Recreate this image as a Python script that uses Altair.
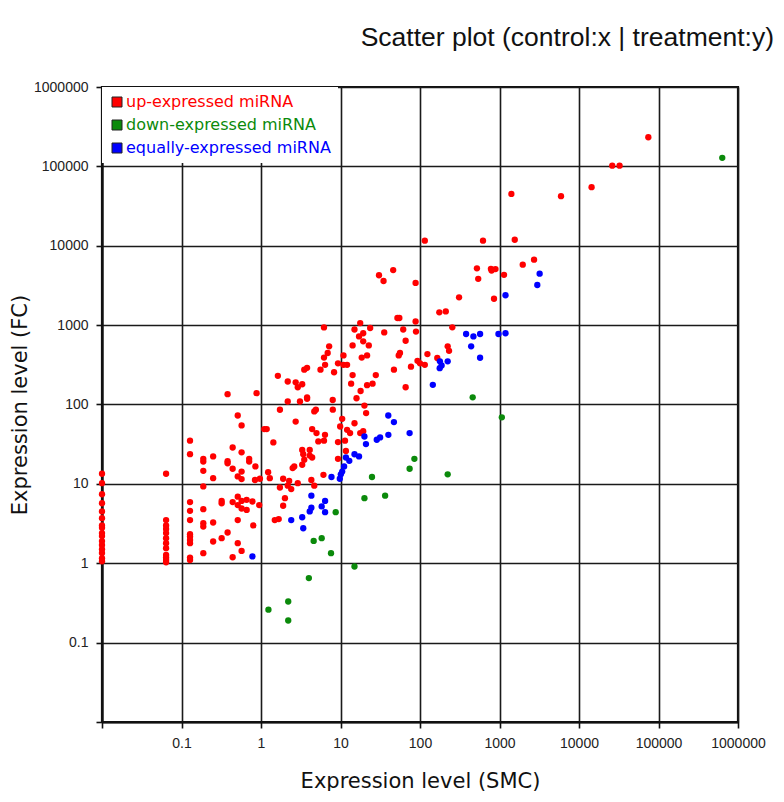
import altair as alt
import pandas as pd

# ---- data ----
up_x = [0.01]*16 + [0.064]*12 + [0.128]*11 + [0.188]*8 + [
    0.25, 0.25, 0.25, 0.25, 0.32, 0.32, 0.32, 0.38, 0.38, 0.38, 0.38,
    0.44, 0.44, 0.44, 0.44, 0.51, 0.51, 0.51, 0.51, 0.51, 0.51,
    0.57, 0.57, 0.57, 0.57, 0.57, 0.57, 0.57, 0.66, 0.66, 0.71, 0.71,
    0.78, 0.8, 0.85, 0.95, 1.1,
    2.17, 3.09, 3.8, 7.98, 1.73, 4.68, 4.9, 8.0, 2.73, 1.18, 4.4, 4.99, 6.38, 5.26, 6.2,
    1.43, 3.3, 4.1, 3.4, 4.1, 4.4, 3.5, 3.3, 2.62, 2.5, 1.23, 1.29, 0.97, 0.84,
    1.9, 2.26, 2.17, 2.9, 4.3, 4.68, 6.1, 1.73, 2.4, 2.0, 1.9, 1.49, 1.67,
    10.5, 9.9, 12.1, 15.0, 13.2, 9.3, 11.4, 11.7, 9.3, 17.7, 19.3, 20, 21,
    30.5, 34.8, 46, 88, 52, 55, 88, 17.7, 15, 19.3, 23.6, 17.1, 35.5, 61.5, 89, 6.2,
    19.3, 22.7, 14.2, 66, 7.2, 6.9, 6.2, 10.9, 18.5, 21.6, 56, 54, 93, 100, 9.3,
    10.9, 12.1, 6.4, 77, 5.6, 3.8, 3.5, 8.3, 47, 27.8, 14.2, 1.63, 2.17, 2.73, 3.3,
    2.9, 13.6, 21.6, 25.3, 66, 0.88, 3.8, 17.9, 15.9,
    74500, 26200, 32400, 14400, 5940, 1410, 115, 620, 1555, 2720, 1960, 520, 780,
    795, 890, 1140, 540, 310, 853, 175, 211, 255, 223, 232, 124, 165, 115,
]
up_y = [13.4, 10.2, 7.4, 5.7, 4.5, 3.7, 3.0, 2.8, 2.4, 2.2, 1.9, 1.7, 1.5, 1.35, 1.16, 1.06] + \
    [13.4, 3.5, 3.0, 2.7, 2.4, 2.07, 1.79, 1.55, 1.27, 1.18, 1.1, 1.03] + \
    [35, 23.7, 5.9, 4.57, 3.5, 2.32, 2.17, 1.97, 1.79, 1.18, 1.1] + \
    [20.7, 19.1, 14.6, 9.3, 4.8, 3.2, 2.9, 1.34] + [
    22.2, 11.8, 3.26, 1.88, 6.1, 5.7, 2.07, 19.3, 18.2, 2.44, 135,
    28.7, 15.5, 5.9, 1.19, 72.7, 12.4, 6.9, 5.4, 3.5, 1.79,
    54.5, 25, 14.3, 11.5, 6.1, 4.9, 1.43, 6.3, 4.7, 20.7, 19.1,
    6.0, 3.0, 16.6, 5.4, 49,
    109, 109, 118, 114, 85.8, 81.8, 86, 86, 61, 49, 49, 43.6, 41.5, 34.3, 35,
    33.3, 26.8, 26.8, 23.6, 22.7, 21.5, 20.2, 17.4, 16.6, 15.8, 14.0, 11.8, 11.6, 11.2,
    11.6, 10.9, 9.5, 10.2, 11.2, 9.5, 13.0, 9.0, 8.6, 6.6, 5.3, 3.5, 3.6,
    66, 52.8, 48, 58, 43.6, 33.6, 35, 26, 20.7, 43.6, 46, 97, 78,
    4250, 3600, 4940, 3400, 1230, 1230, 1110, 1060, 880, 790, 920, 720, 810, 880, 830, 935,
    625, 555, 555, 635, 540, 445, 390, 415, 390, 415, 445, 415, 355, 330, 330,
    316, 316, 316, 300, 275, 290, 275, 255, 275, 235, 235, 230, 195, 190, 180,
    165, 183, 175, 183, 165, 139, 123, 148, 120,
    233000, 102000, 102000, 54700, 42100, 45000, 11600, 11600, 11900, 6680, 5780, 5200, 5120,
    4870, 5080, 4300, 3830, 2240, 2150, 1450, 1490, 937, 540, 475, 432, 385, 316,
]

down_x = [634000, 460, 1070, 85, 74, 24.9, 223, 20, 36.4, 8.7, 5.8, 4.6, 7.6, 15, 4.0, 2.2, 1.24, 2.2]
down_y = [128000, 123, 69, 20.7, 15.5, 12.2, 13.2, 6.6, 7.1, 4.4, 2.07, 1.91, 1.34, 0.91, 0.65, 0.33, 0.26, 0.19]

equal_x = [0.78, 39.9, 47, 40, 31.5, 28.6, 74, 20, 20.9, 15, 17.1, 11.7, 12.9, 11.1, 10.5, 10.1,
           9.8, 7.7, 4.3, 6.4, 5.8, 4.3, 4.1, 6.4, 3.3, 2.4, 3.4,
           3200, 2990, 1190, 380, 470, 570, 970, 1190, 440, 570, 223, 178, 187, 177, 145]
equal_y = [1.22, 72.7, 60, 41.5, 38.5, 36, 43.6, 39.5, 31.7, 23.6, 22.2, 21.5, 19.5, 16.6, 14.3, 13.2,
           11.6, 12.2, 7.1, 6.1, 5.2, 5.0, 4.5, 4.4, 3.8, 3.5, 2.76,
           4450, 3200, 2380, 773, 720, 773, 773, 790, 540, 388, 350, 350, 310, 287, 177]

groups = ["up-expressed miRNA", "down-expressed miRNA", "equally-expressed miRNA"]
colors = ["#ff0000", "#0b8a0b", "#0000ff"]
ticks = [0.01, 0.1, 1, 10, 100, 1000, 10000, 100000, 1000000]

df = pd.concat([
    pd.DataFrame({"x": up_x, "y": up_y, "group": groups[0]}),
    pd.DataFrame({"x": down_x, "y": down_y, "group": groups[1]}),
    pd.DataFrame({"x": equal_x, "y": equal_y, "group": groups[2]}),
], ignore_index=True)
df["order"] = df["group"].map({g: i for i, g in enumerate(groups)})

label_color_expr = (
    f"datum.label == '{groups[0]}' ? '{colors[0]}' : "
    f"(datum.label == '{groups[1]}' ? '{colors[1]}' : '{colors[2]}')"
)

axis_common = dict(
    values=ticks,
    format=".7~g",
    labelExpr="datum.value < 0.05 ? '' : datum.label",
    grid=True,
    gridColor="#1a1a1a",
    gridWidth=1.6,
    gridOpacity=1,
    domainColor="#111111",
    domainWidth=2.2,
    tickColor="#111111",
    tickWidth=1.6,
    tickSize=6,
    labelFont="Liberation Sans",
    labelFontSize=14,
    labelColor="#222222",
    labelPadding=8,
    titleFont="DejaVu Sans",
    titleFontSize=21,
    titleFontWeight="normal",
    titleColor="#111111",
)

chart = alt.Chart(df).mark_circle(size=40, opacity=1).encode(
    x=alt.X("x:Q", scale=alt.Scale(type="log", domain=[0.01, 1000000], nice=False),
            axis=alt.Axis(title="Expression level (SMC)", titlePadding=20, labelFlush=False, **axis_common)),
    y=alt.Y("y:Q", scale=alt.Scale(type="log", domain=[0.01, 1000000], nice=False),
            axis=alt.Axis(title="Expression level (FC)", titlePadding=3, labelFlush=False, **axis_common)),
    color=alt.Color("group:N", scale=alt.Scale(domain=groups, range=colors),
                    legend=alt.Legend(
                        title=None, orient="top-left", offset=0, padding=7,
                        fillColor="white", symbolType="square", symbolSize=100,
                        symbolStrokeColor="#222222", symbolStrokeWidth=1,
                        labelFont="DejaVu Sans", labelFontSize=16, labelOffset=1,
                        rowPadding=7, labelLimit=400,
                        labelColor={"expr": label_color_expr},
                    )),
    order=alt.Order("order:Q"),
).properties(
    width=636, height=635,
    title=alt.TitleParams("Scatter plot (control:x | treatment:y)", anchor="end", frame="group",
                          font="Liberation Sans", fontSize=26.5, fontWeight="normal", color="#111111",
                          offset=29, dx=36),
    padding={"left": 1, "top": 16, "right": 0, "bottom": 0},
).configure_view(stroke="#111111", strokeWidth=2.2)

chart.save("out.html", embed_options={"renderer": "svg", "actions": False})
